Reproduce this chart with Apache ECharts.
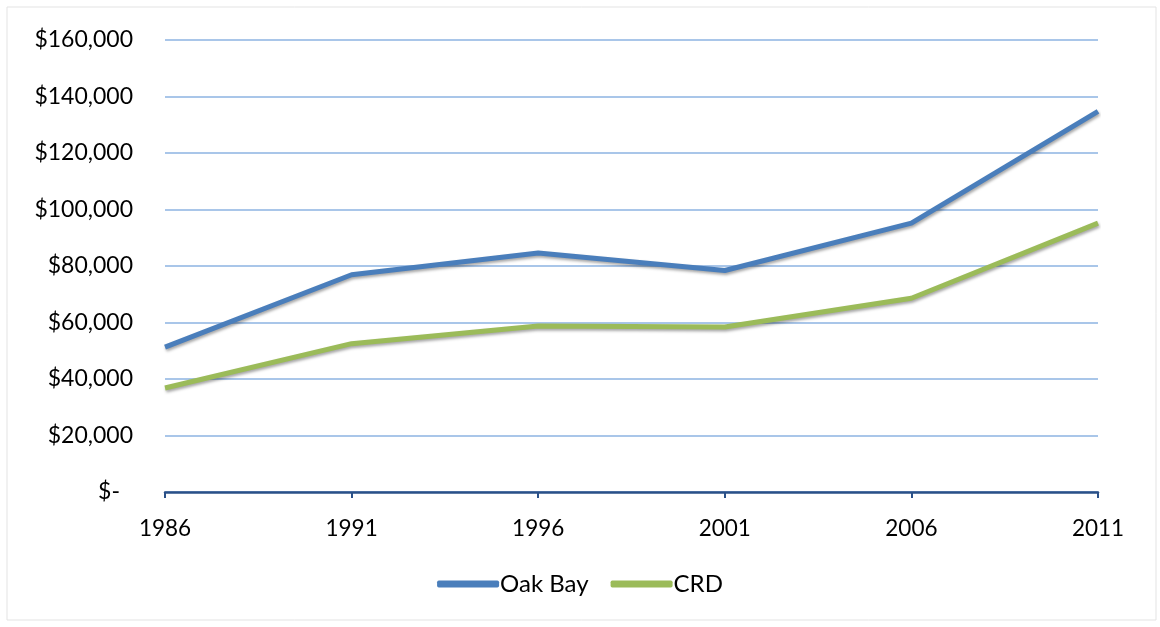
<!DOCTYPE html>
<html>
<head>
<meta charset="utf-8">
<script src="https://cdn.jsdelivr.net/npm/echarts@6/dist/echarts.min.js"></script>
<style>
  html, body { margin: 0; padding: 0; background: #fff; }
  #chart { width: 1160px; height: 627px; }
</style>
</head>
<body>
<div id="chart"></div>
<script>
  // census years and median household income
  var years = ['1986', '1991', '1996', '2001', '2006', '2011'];
  var oakBay = [51300, 76900, 84600, 78400, 95200, 134700];
  var crd = [36800, 52500, 58800, 58400, 68600, 95200];

  var myChart = echarts.init(document.getElementById('chart'));
  var font = 'Lato, "Open Sans", sans-serif';

  function money(v) {
    if (v === 0) return '{z|$-}';
    return '$' + v.toLocaleString('en-US');
  }

  var lineShadow = {
    shadowColor: 'rgba(0,0,0,0.35)',
    shadowBlur: 3,
    shadowOffsetX: 1,
    shadowOffsetY: 2
  };

  var option = {
    animation: false,
    backgroundColor: '#fff',
    graphic: [{
      type: 'rect',
      shape: { x: 7, y: 7, width: 1149, height: 613 },
      style: { fill: 'none', stroke: '#e3e3e3', lineWidth: 1 },
      silent: true
    }],
    grid: { left: 165, right: 62, top: 40, bottom: 135 },
    legend: {
      bottom: 26,
      left: 'center',
      itemWidth: 62,
      itemHeight: 7,
      itemGap: 22,
      icon: 'roundRect',
      textStyle: { fontFamily: font, fontSize: 24, color: '#000', padding: [0, 0, 0, -4] },
      data: ['Oak Bay', 'CRD']
    },
    xAxis: {
      type: 'category',
      data: years,
      boundaryGap: false,
      axisLine: { lineStyle: { color: '#2a5088', width: 2.5 } },
      axisTick: { show: true, length: 6, lineStyle: { color: '#2a5088', width: 2 } },
      axisLabel: { margin: 25, fontFamily: font, fontSize: 22.5, color: '#000' },
      splitLine: { show: false }
    },
    yAxis: {
      type: 'value',
      min: 0,
      max: 160000,
      interval: 20000,
      axisLine: { show: false },
      axisTick: { show: false },
      axisLabel: {
        margin: 32,
        fontFamily: font,
        fontSize: 23,
        color: '#000',
        formatter: money,
        rich: { z: { fontFamily: font, fontSize: 23, color: '#000', padding: [0, 13, 0, 0] } }
      },
      splitLine: { lineStyle: { color: '#8db3e2', width: 1.5 } }
    },
    series: [
      {
        name: 'Oak Bay',
        type: 'line',
        data: oakBay,
        symbol: 'none',
        color: '#4a7ebb',
        lineStyle: Object.assign({ width: 5, color: '#4a7ebb' }, lineShadow)
      },
      {
        name: 'CRD',
        type: 'line',
        data: crd,
        symbol: 'none',
        color: '#9bbb59',
        lineStyle: Object.assign({ width: 5, color: '#9bbb59' }, lineShadow)
      }
    ]
  };
  myChart.setOption(option);
</script>
</body>
</html>
